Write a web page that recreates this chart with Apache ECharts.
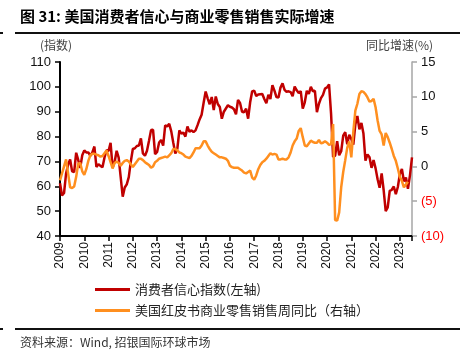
<!DOCTYPE html>
<html><head><meta charset="utf-8">
<script src="https://cdn.jsdelivr.net/npm/echarts@6/dist/echarts.min.js"></script>
<style>html,body{margin:0;padding:0;background:#fff}#c{width:460px;height:360px}</style>
</head><body><div id="c"></div>
<script>
// Monthly data starting Jan 2009
const startYear = 2009;
// Consumer sentiment index (left axis), Jan 2009 - Jul 2023
const sentiment = [
  61.2, 56.3, 57.3, 65.1, 68.7, 70.8, 66.0, 65.7, 73.5, 70.6, 67.4, 72.5,
  74.4, 73.6, 73.6, 72.2, 73.6, 76.0, 67.8, 68.9, 68.2, 67.7, 71.6, 74.5,
  74.2, 77.5, 67.5, 69.8, 74.3, 71.5, 63.7, 55.8, 59.5, 60.8, 63.7, 69.9,
  75.0, 75.3, 76.2, 76.4, 79.3, 73.2, 72.3, 74.3, 78.3, 82.6, 82.7, 72.9,
  73.8, 77.6, 78.6, 76.4, 84.5, 84.1, 85.1, 82.1, 77.5, 73.2, 75.1, 82.5,
  81.2, 81.6, 80.0, 84.1, 81.9, 82.5, 81.8, 82.5, 84.6, 86.9, 88.8, 93.6,
  98.1, 95.4, 93.0, 95.9, 90.7, 96.1, 93.1, 91.9, 87.2, 90.0, 91.3, 92.6,
  92.0, 91.7, 91.0, 89.0, 94.7, 93.5, 90.0, 89.8, 91.2, 87.2, 93.8, 98.2,
  98.5, 96.3, 96.9, 97.0, 97.1, 95.1, 93.4, 96.8, 95.1, 100.7, 98.5, 95.9,
  95.7, 99.7, 101.4, 98.8, 98.0, 98.2, 97.9, 96.2, 100.1, 98.6, 97.5, 98.3,
  91.2, 93.8, 98.4, 97.2, 100.0, 98.2, 98.4, 89.8, 93.2, 95.5, 96.8, 99.3,
  99.8, 101.0, 89.1, 71.8, 72.3, 78.1, 72.5, 74.1, 80.4, 81.8, 76.9, 80.7,
  79.0, 76.8, 84.9, 88.3, 82.9, 85.5, 81.2, 70.3, 72.8, 71.7, 67.4, 70.6,
  67.2, 62.8, 59.4, 65.2, 58.4, 50.0, 51.5, 58.2, 58.6, 59.9, 56.8, 59.7,
  64.9, 67.0, 62.0, 63.5, 59.0, 64.4, 71.6
];
// Redbook retail sales YoY % (right axis), Jan 2009 - May 2023
const redbook = [
  -2.0, -1.0, 0.0, 1.0, -1.0, -3.0, -3.1, -2.9, -1.5, 0.4, 0.5, -0.7,
  -1.2, -0.4, 0.8, 1.6, 1.8, 1.8, 1.7, 1.6, 1.4, 1.5, 1.9, 2.3,
  1.5, 0.6, -0.3, 0.5, 0.7, 0.5, 0.1, 0.5, 0.8, 0.9, 0.7, 0.3,
  -0.1, 0.3, 0.7, 1.1, 1.1, 0.9, 0.6, 0.4, 0.2, -0.2, 0.0, 0.6,
  0.8, 1.1, 1.2, 1.3, 1.4, 1.3, 1.6, 1.9, 2.5, 2.5, 2.3, 2.0,
  1.9, 1.7, 1.4, 1.3, 1.2, 1.5, 2.0, 2.6, 2.6, 2.6, 3.0, 3.6,
  3.6, 3.0, 2.5, 2.1, 1.9, 1.7, 1.5, 1.3, 1.3, 1.2, 1.1, 0.8,
  0.1, -0.1, -0.2, -0.2, -0.2, -0.4, -0.6, -0.9, -1.0, -0.8, -0.6, -1.6,
  -1.9, -1.3, -0.4, 0.2, 0.6, 0.8, 1.1, 1.5, 1.9, 1.7, 1.8, 1.7,
  1.0, 1.0, 1.1, 1.0, 1.0, 1.3, 2.0, 3.0, 3.6, 4.0, 5.1, 5.5,
  4.2, 3.0, 2.9, 3.3, 3.7, 3.5, 3.4, 3.4, 3.8, 3.3, 3.4, 3.6,
  3.4, 3.1, 3.2, 6.1, -7.7, -7.8, -6.6, -3.0, -0.8, 0.9, 2.7, 3.6,
  1.3, 5.0, 8.0, 9.0, 10.4, 10.8, 10.7, 10.4, 9.9, 9.3, 9.4, 9.7,
  8.5, 6.6, 5.1, 4.6, 3.0, 4.8, 4.2, 3.4, 2.5, 1.5, 0.8, -0.3,
  -1.5, -2.1, -3.0, -2.6, -2.2
];
const seriesNames = ['消费者信心指数(左轴)', '美国红皮书商业零售销售周同比（右轴）'];
const titleText = '图 31: 美国消费者信心与商业零售销售实际增速';
const sourceText = '资料来源：Wind, 招银国际环球市场';
const leftAxisName = '(指数)';
const rightAxisName = '同比增速(%)';

const toPairs = arr => arr.map((v, i) => [startYear + i / 12, v]);
const xMax = startYear + (sentiment.length - 1) / 12;

const CJK = '"Noto Sans CJK SC", "Liberation Sans", sans-serif';
const NUM = '"Liberation Sans", Arial, sans-serif';

const chart = echarts.init(document.getElementById('c'), null, {renderer: 'canvas'});
chart.setOption({
  animation: false,
  backgroundColor: '#fff',
  grid: {left: 60, right: 48, top: 62, bottom: 124, containLabel: false},
  legend: {
    orient: 'vertical', left: 90, top: 278, itemGap: 8,
    itemWidth: 35, itemHeight: 3, icon: 'rect',
    textStyle: {fontFamily: CJK, fontSize: 13, color: '#222'},
    data: seriesNames
  },
  xAxis: {
    type: 'value', min: startYear, max: xMax, interval: 1,
    axisLine: {onZero: false, lineStyle: {color: '#000', width: 2}},
    axisTick: {lineStyle: {color: '#000', width: 1.5}, length: 5},
    splitLine: {show: false},
    axisLabel: {
      rotate: 90, fontFamily: NUM, fontSize: 12, color: '#111', margin: 6,
      formatter: v => Number.isInteger(v) ? String(v) : ''
    }
  },
  yAxis: [{
    type: 'value', min: 40, max: 110, interval: 10,
    axisLine: {show: true, onZero: false, lineStyle: {color: '#000', width: 2}},
    axisTick: {show: true, lineStyle: {color: '#000', width: 1.5}, length: 5},
    splitLine: {show: false},
    axisLabel: {fontFamily: NUM, fontSize: 13, color: '#111', margin: 9}
  }, {
    type: 'value', min: -10, max: 15, interval: 5, position: 'right',
    axisLine: {show: true, onZero: false, lineStyle: {color: '#A6A6A6', width: 1.5}},
    axisTick: {show: true, lineStyle: {color: '#A6A6A6', width: 1.5}, length: 5},
    splitLine: {show: false},
    axisLabel: {
      fontFamily: NUM, fontSize: 13, margin: 9,
      formatter: v => v < 0 ? '{neg|(' + (-v) + ')}' : '{pos|' + v + '}',
      rich: {
        neg: {color: '#FF0000', fontFamily: NUM, fontSize: 13},
        pos: {color: '#111', fontFamily: NUM, fontSize: 13}
      }
    }
  }],
  series: [{
    name: seriesNames[0], type: 'line', yAxisIndex: 0, showSymbol: false,
    data: toPairs(sentiment), color: '#C00000',
    lineStyle: {color: '#C00000', width: 2.5}
  }, {
    name: seriesNames[1], type: 'line', yAxisIndex: 1, showSymbol: false,
    data: toPairs(redbook), color: '#FF8F1F',
    lineStyle: {color: '#FF8F1F', width: 2.5}
  }],
  graphic: [
    {type: 'text', left: 20, top: 9, style: {text: titleText, font: 'bold 15px ' + CJK, fill: '#000'}},
    {type: 'rect', shape: {x: 15, y: 32, width: 445, height: 2}, style: {fill: '#111'}},
    {type: 'rect', shape: {x: 0, y: 32, width: 3, height: 2}, style: {fill: '#111'}},
    {type: 'text', left: 40, top: 39, style: {text: leftAxisName, font: '12px ' + CJK, fill: '#444'}},
    {type: 'text', left: 366, top: 39, style: {text: rightAxisName, font: '12px ' + CJK, fill: '#444'}},
    {type: 'rect', shape: {x: 15, y: 328, width: 445, height: 2}, style: {fill: '#111'}},
    {type: 'rect', shape: {x: 0, y: 328, width: 3, height: 2}, style: {fill: '#111'}},
    {type: 'text', left: 20, top: 336, style: {text: sourceText, font: '12px ' + CJK, fill: '#333'}}
  ]
});
</script>
</body></html>
